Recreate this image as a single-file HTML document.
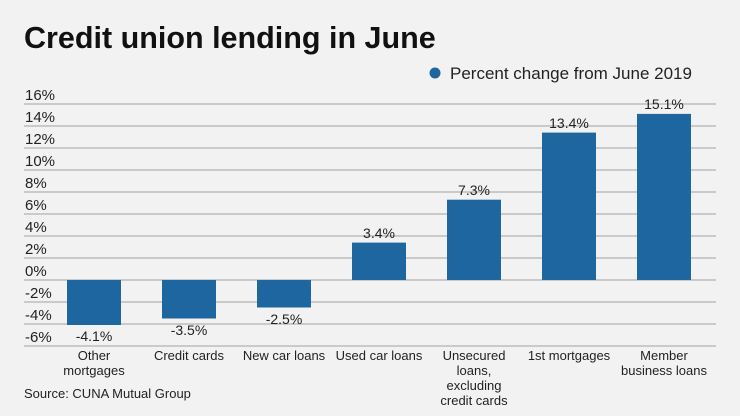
<!DOCTYPE html>
<html><head><style>
body{margin:0;background:#f2f2f2;}
svg{display:block;font-family:"Liberation Sans",sans-serif;}
</style></head><body>
<svg width="740" height="416" viewBox="0 0 740 416">
<rect width="740" height="416" fill="#f2f2f2"/>
<text x="24" y="48" font-size="30.5" font-weight="bold" fill="#111">Credit union lending in June</text>
<circle cx="435" cy="73" r="5.5" fill="#1d66a0"/>
<text x="450" y="79" font-size="17" fill="#222">Percent change from June 2019</text>
<g stroke="#bdbdbd" stroke-width="1.5">
<line x1="24" x2="716" y1="104" y2="104"/><line x1="24" x2="716" y1="126" y2="126"/>
<line x1="24" x2="716" y1="148" y2="148"/><line x1="24" x2="716" y1="170" y2="170"/>
<line x1="24" x2="716" y1="192" y2="192"/><line x1="24" x2="716" y1="214" y2="214"/>
<line x1="24" x2="716" y1="236" y2="236"/><line x1="24" x2="716" y1="258" y2="258"/>
<line x1="24" x2="716" y1="280" y2="280"/><line x1="24" x2="716" y1="302" y2="302"/>
<line x1="24" x2="716" y1="324" y2="324"/><line x1="24" x2="716" y1="346" y2="346"/>
</g>
<g font-size="15" fill="#222">
<text x="25" y="100">16%</text><text x="25" y="122">14%</text><text x="25" y="144">12%</text>
<text x="25" y="166">10%</text><text x="25" y="188">8%</text><text x="25" y="210">6%</text>
<text x="25" y="232">4%</text><text x="25" y="254">2%</text><text x="25" y="276">0%</text>
<text x="25" y="298">-2%</text><text x="25" y="320">-4%</text><text x="25" y="342">-6%</text>
</g>
<g fill="#1d66a0">
<rect x="67" y="280" width="54" height="45"/>
<rect x="162" y="280" width="54" height="38.5"/>
<rect x="257" y="280" width="54" height="27.5"/>
<rect x="352" y="242.6" width="54" height="37.4"/>
<rect x="447" y="199.7" width="54" height="80.3"/>
<rect x="542" y="132.6" width="54" height="147.4"/>
<rect x="637" y="113.9" width="54" height="166.1"/>
</g>
<g font-size="14" fill="#222" text-anchor="middle">
<text x="94" y="341">-4.1%</text><text x="189" y="335">-3.5%</text><text x="284" y="324">-2.5%</text>
<text x="379" y="238">3.4%</text><text x="474" y="195">7.3%</text><text x="569" y="128">13.4%</text><text x="664" y="109">15.1%</text>
</g>
<g font-size="13" fill="#222" text-anchor="middle">
<text x="94" y="360">Other</text><text x="94" y="375">mortgages</text>
<text x="189" y="360">Credit cards</text>
<text x="284" y="360">New car loans</text>
<text x="379" y="360">Used car loans</text>
<text x="474" y="360">Unsecured</text><text x="474" y="375">loans,</text><text x="474" y="390">excluding</text><text x="474" y="405">credit cards</text>
<text x="569" y="360">1st mortgages</text>
<text x="664" y="360">Member</text><text x="664" y="375">business loans</text>
</g>
<text x="24" y="398" font-size="13" fill="#222">Source: CUNA Mutual Group</text>
</svg>
</body></html>
